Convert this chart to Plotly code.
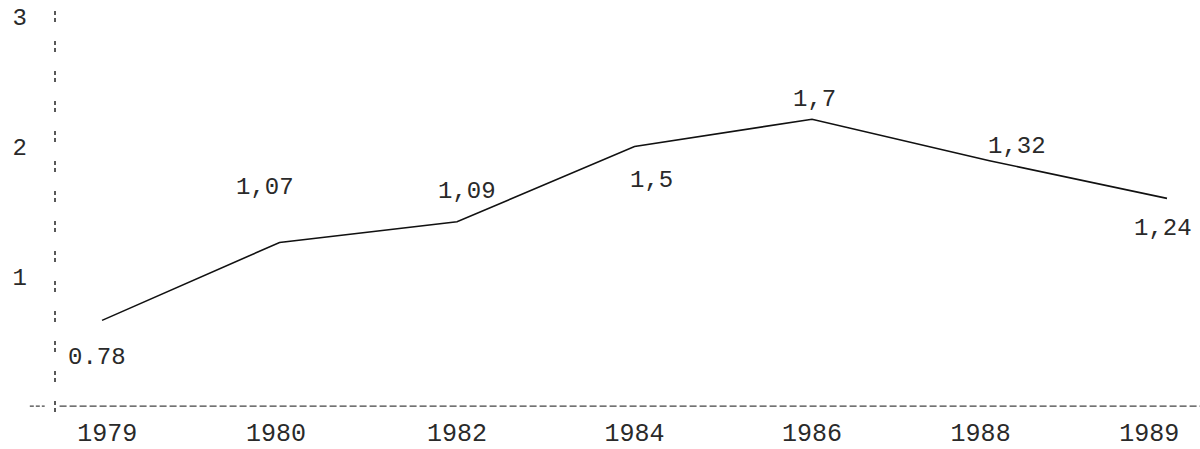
import plotly.graph_objects as go

# Data
years = ["1979", "1980", "1982", "1984", "1986", "1988", "1989"]
values = [0.66, 1.26, 1.42, 2.00, 2.21, 1.89, 1.60]
point_labels = ["0.78", "1,07", "1,09", "1,5", "1,7", "1,32", "1,24"]
y_ticks = [1, 2, 3]

# evenly spaced category positions
xpos = list(range(len(years)))
# small shifts of the year labels relative to their points (layout)
tick_shift = [0.03, -0.02, 0, 0, 0, -0.05, -0.1]

# label offsets (pixels) relative to each point
label_dx = [-5, -15, 10, 17, 2, 28, -4]
label_dy = [-37, 55, 30, -34, 20, 14, -30]

FONT = "Liberation Mono"
INK = "#2a2a2a"

fig = go.Figure()
fig.add_trace(go.Scatter(
    x=xpos, y=values, mode="lines",
    line=dict(color="#111111", width=1.6),
    hoverinfo="skip", showlegend=False,
))

for xi, v, t, dx, dy in zip(xpos, values, point_labels, label_dx, label_dy):
    fig.add_annotation(
        x=xi, y=v, text=t, showarrow=False,
        xshift=dx, yshift=dy, xanchor="center", yanchor="middle",
        font=dict(family=FONT, size=24, color=INK),
    )

# dashed vertical axis line
fig.add_shape(type="line", xref="paper", yref="paper", x0=0, x1=0, y0=0, y1=1,
              line=dict(color="#222222", width=1.5, dash="4px,3px,4px,19px"))
# dotted baseline
fig.add_shape(type="line", xref="paper", yref="y", x0=0.004, x1=1, y0=0, y1=0,
              line=dict(color="#444444", width=1.2, dash="7px,3px"))
# small tick left of axis at zero
fig.add_shape(type="line", xref="paper", yref="y", x0=-0.022, x1=-0.009, y0=0, y1=0,
              line=dict(color="#444444", width=1.2, dash="4px,2px"))

fig.update_layout(
    width=1200, height=449,
    margin=dict(l=55, r=0, t=5, b=37),
    paper_bgcolor="white", plot_bgcolor="white",
    font=dict(family=FONT, color=INK),
    xaxis=dict(
        range=[-0.265, 6.186], automargin=False,
        tickmode="array",
        tickvals=[x + s for x, s in zip(xpos, tick_shift)], ticktext=years,
        showgrid=False, zeroline=False, showline=False, ticks="",
        tickfont=dict(family=FONT, size=25, color=INK),
        ticklabelstandoff=3,
    ),
    yaxis=dict(
        range=[-0.046, 3.09], automargin=False,
        tickvals=y_ticks, ticktext=[str(v) for v in y_ticks],
        showgrid=False, zeroline=False, showline=False, ticks="",
        tickfont=dict(family=FONT, size=24, color=INK),
        ticklabelstandoff=27,
    ),
)

fig.write_html(
    "out.html",
    config={"displayModeBar": False},
    post_script="document.body.style.margin='0';document.body.style.overflow='hidden';",
)
